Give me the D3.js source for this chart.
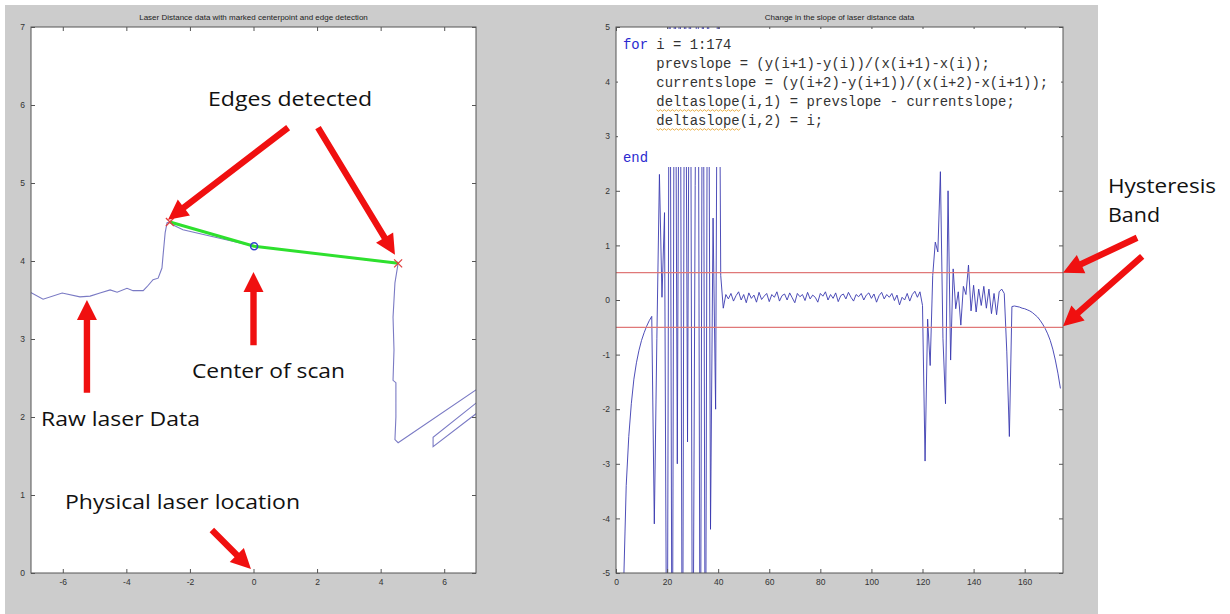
<!DOCTYPE html>
<meta charset="utf-8">
<style>
body { margin: 0; background: #fff; }
svg { display: block; }
.tick text { font-family: "Liberation Sans", Arial, sans-serif; font-size: 8.5px; fill: #333; }
.tick line { stroke: #555; }
.title { font-family: "Liberation Sans", Arial, sans-serif; font-size: 8px; fill: #222; }
.note { font-family: "Open Sans", "Liberation Sans", sans-serif; font-size: 20px; fill: #111; }
.code { font-family: "Liberation Mono", "Courier New", monospace; font-size: 13.9px; fill: #333; white-space: pre; }
</style>
<body>
<script src="https://cdn.jsdelivr.net/npm/d3@7"></script>
<script>
// left: raw laser scan (x, y in metres)
var rawScan = [
  [-7.19,3.60],[-7.03,3.60],[-6.62,3.51],[-6.02,3.59],[-5.46,3.54],[-5.14,3.55],
  [-4.83,3.59],[-4.51,3.63],[-4.29,3.60],[-3.98,3.65],[-3.79,3.62],[-3.47,3.62],
  [-3.35,3.67],[-3.16,3.76],[-3.00,3.78],[-2.88,3.91],[-2.85,4.05],[-2.78,4.36],
  [-2.72,4.49],[-2.63,4.50],[-2.53,4.46],[-2.22,4.40],[-1.78,4.36],[-1.27,4.31],
  [-0.83,4.27],[-0.42,4.23],[0.02,4.19],[1.46,4.12],[3.04,4.04],[4.55,3.97],
  [4.45,3.72],[4.39,3.28],[4.42,2.86],[4.39,2.47],[4.48,2.44],[4.48,2.00],
  [4.45,1.71],[4.55,1.67],[7.44,2.47],[7.44,2.32],[5.65,1.74],[5.65,1.62],[7.44,2.18]
];
var edgePoints = [[-2.63,4.50],[4.55,3.97]];
var centerPoint = [0.02,4.19];
var leftXTicks = [-6,-4,-2,0,2,4,6];
var leftYTicks = [0,1,2,3,4,5,6,7];

// right: deltaslope(i), i = 1..174
var deltaSlope = [
  -30,-9,-5.2,-3.4,-2.5,-1.9,-1.45,-1.15,-0.92,-0.74,
  -0.6,-0.48,-0.38,-0.3,-4.1,-0.7,2.3,0.05,1.6,-9,
  9,-9,9,-3.0,9,-9,9,-2.6,9,-9,
  2.1,9,-9,9,-9,9,-4.2,1.5,-2.0,9,
  0.45,-0.15,
  0.1,0.02,0.12,-0.02,0.08,0.15,0.0,0.1,-0.05,0.13,
  0.03,0.09,-0.04,0.14,0.01,0.07,0.12,-0.03,0.1,0.05,
  0.15,-0.02,0.08,0.11,0.0,0.13,0.04,-0.05,0.12,0.06,
  0.1,-0.01,0.14,0.02,0.09,0.05,-0.04,0.12,0.07,0.15,
  0.0,0.1,0.03,0.13,-0.03,0.08,0.11,0.02,0.14,0.05,
  -0.02,0.1,0.06,0.12,0.0,0.09,0.13,0.03,0.11,-0.04,
  0.08,0.14,0.02,0.1,0.05,0.12,-0.01,0.09,
  -0.09,0.05,0.0,0.12,-0.02,0.1,0.16,0.05,0.15,-0.1,
  -2.95,-0.35,-1.2,0.45,1.06,0.88,2.35,-0.7,-1.9,2.0,
  -1.1,0.57,-0.16,0.15,-0.46,0.25,0.1,0.64,-0.2,0.27,
  -0.22,0.2,-0.1,0.25,-0.15,0.2,-0.25,0.12,-0.27,0.15,
  0.2,0.12,-0.95,-2.5,-0.12,-0.11,-0.12,-0.13,-0.15,-0.16,
  -0.18,-0.2,-0.23,-0.27,-0.31,-0.37,-0.44,-0.52,-0.62,-0.74,
  -0.9,-1.1,-1.34,-1.62
];
var hysteresis = [0.5,-0.5];
var rightXTicks = [0,20,40,60,80,100,120,140,160];
var rightYTicks = [-5,-4,-3,-2,-1,0,1,2,3,4,5];

var codeLines = [
  [["for","kw"],[" i = 1:174",""]],
  [["    prevslope = (y(i+1)-y(i))/(x(i+1)-x(i));",""]],
  [["    currentslope = (y(i+2)-y(i+1))/(x(i+2)-x(i+1));",""]],
  [["    deltaslope(i,1) = prevslope - currentslope;",""]],
  [["    deltaslope(i,2) = i;",""]],
  [["",""]],
  [["end","kw"]]
];

var width = 1230, height = 614;

var svg = d3.select("body").append("svg")
    .attr("width", width)
    .attr("height", height);

svg.append("rect").attr("width", width).attr("height", height).attr("fill", "#fff");
svg.append("rect").attr("x", 5).attr("y", 5).attr("width", 1093).attr("height", 609).attr("fill", "#cccccc");

var defs = svg.append("defs");

function drawFrame(x, y, xt, yt, title, id) {
  var x0 = x.range()[0], x1 = x.range()[1], y0 = y.range()[0], y1 = y.range()[1];
  var g = svg.append("g");
  g.append("rect").attr("x", x0).attr("y", y1).attr("width", x1 - x0).attr("height", y0 - y1)
    .attr("fill", "#fff");
  defs.append("clipPath").attr("id", id).append("rect")
    .attr("x", x0).attr("y", y1).attr("width", x1 - x0).attr("height", y0 - y1);
  svg.append("text").attr("class", "title")
    .attr("x", (x0 + x1) / 2).attr("y", 20).attr("text-anchor", "middle").text(title);
  return g;
}

function drawAxes(x, y, xt, yt) {
  var x0 = x.range()[0], x1 = x.range()[1], y0 = y.range()[0], y1 = y.range()[1];
  var fmt = function(d) { return String(d); };
  var g = svg.append("g");
  g.append("g").attr("transform", "translate(0," + y0 + ")")
    .call(d3.axisBottom(x).tickValues(xt).tickFormat(fmt).tickSizeInner(-4).tickSizeOuter(0).tickPadding(6));
  g.append("g").attr("transform", "translate(0," + y1 + ")")
    .call(d3.axisTop(x).tickValues(xt).tickFormat("").tickSizeInner(-4).tickSizeOuter(0));
  g.append("g").attr("transform", "translate(" + x0 + ",0)")
    .call(d3.axisLeft(y).tickValues(yt).tickFormat(fmt).tickSizeInner(-4).tickSizeOuter(0).tickPadding(6));
  g.append("g").attr("transform", "translate(" + x1 + ",0)")
    .call(d3.axisRight(y).tickValues(yt).tickFormat("").tickSizeInner(-4).tickSizeOuter(0));
  g.selectAll(".domain").remove();
  g.append("rect").attr("x", x0).attr("y", y1).attr("width", x1 - x0).attr("height", y0 - y1)
    .attr("fill", "none").attr("stroke", "#555").attr("stroke-width", 1);
  return g;
}

// ---- left chart
var xL = d3.scaleLinear().domain([-7, 7]).range([31, 476]);
var yL = d3.scaleLinear().domain([0, 7]).range([573, 27]);
drawFrame(xL, yL, leftXTicks, leftYTicks, "Laser Distance data with marked centerpoint and edge detection", "clipL");

var lineL = d3.line().x(function(d) { return xL(d[0]); }).y(function(d) { return yL(d[1]); });
var gl = svg.append("g").attr("clip-path", "url(#clipL)");
gl.append("path").datum(rawScan).attr("d", lineL)
  .attr("fill", "none").attr("stroke", "#7a7ac4").attr("stroke-width", 1.1);
gl.append("path").datum([edgePoints[0], centerPoint, edgePoints[1]]).attr("d", lineL)
  .attr("fill", "none").attr("stroke", "#2ee02e").attr("stroke-width", 3);
gl.append("circle").attr("cx", xL(centerPoint[0])).attr("cy", yL(centerPoint[1])).attr("r", 3.5)
  .attr("fill", "none").attr("stroke", "#3344cc").attr("stroke-width", 1.5);
gl.selectAll(".edge").data(edgePoints).enter().append("path")
  .attr("d", function(d) {
    var cx = xL(d[0]), cy = yL(d[1]), s = 4;
    return "M" + (cx - s) + "," + (cy - s) + "L" + (cx + s) + "," + (cy + s) +
           "M" + (cx - s) + "," + (cy + s) + "L" + (cx + s) + "," + (cy - s);
  })
  .attr("stroke", "#e04040").attr("stroke-width", 1.3);
drawAxes(xL, yL, leftXTicks, leftYTicks);

// ---- right chart
var xR = d3.scaleLinear().domain([0, 175]).range([616, 1063]);
var yR = d3.scaleLinear().domain([-5, 5]).range([573, 27]);
drawFrame(xR, yR, rightXTicks, rightYTicks, "Change in the slope of laser distance data", "clipR");

var gr = svg.append("g").attr("clip-path", "url(#clipR)");
gr.append("path").datum(deltaSlope)
  .attr("d", d3.line().x(function(d, i) { return xR(i + 1); }).y(function(d) { return yR(d); }))
  .attr("fill", "none").attr("stroke", "#3a3ab0").attr("stroke-width", 0.9);
gr.selectAll(".hyst").data(hysteresis).enter().append("line")
  .attr("x1", xR(0)).attr("x2", xR(175))
  .attr("y1", function(d) { return yR(d); }).attr("y2", function(d) { return yR(d); })
  .attr("stroke", "#e07878").attr("stroke-width", 1.3);
drawAxes(xR, yR, rightXTicks, rightYTicks);

// code snippet pasted over the top of the right chart
svg.append("rect").attr("x", 618).attr("y", 29).attr("width", 443).attr("height", 138).attr("fill", "#fff");
var charW = 8.35, lineH = 18.9;
codeLines.forEach(function(parts, li) {
  var t = svg.append("text").attr("class", "code")
    .attr("x", 623).attr("y", 49 + li * lineH + (li === 6 ? -0.5 : 0));
  parts.forEach(function(p) {
    t.append("tspan").attr("fill", p[1] === "kw" ? "#2a2ad0" : "#333").text(p[0]);
  });
});
[3, 4].forEach(function(li) {
  var y = 49 + li * lineH + 4, x0 = 623 + 4 * charW, x1 = x0 + 10 * charW, d = "M" + x0 + "," + y;
  for (var x = x0, k = 0; x < x1; x += 2, k++) d += "L" + (x + 2) + "," + (y + (k % 2 ? 0 : 1.6));
  svg.append("path").attr("d", d).attr("fill", "none").attr("stroke", "#e8a838").attr("stroke-width", 0.9);
});

// ---- annotations
function arrowPath(a, b) {
  var dx = b[0] - a[0], dy = b[1] - a[1], L = Math.hypot(dx, dy);
  var ux = dx / L, uy = dy / L, nx = -uy, ny = ux;
  var hl = 20, hw = 10, sw = 3.2;
  var bx = b[0] - ux * hl, by = b[1] - uy * hl;
  var pts = [
    [a[0] + nx * sw, a[1] + ny * sw], [bx + nx * sw, by + ny * sw], [bx + nx * hw, by + ny * hw],
    b, [bx - nx * hw, by - ny * hw], [bx - nx * sw, by - ny * sw], [a[0] - nx * sw, a[1] - ny * sw]
  ];
  return "M" + pts.join("L") + "Z";
}
var leftArrows = [
  [[1.09, 5.71], [-2.69, 4.53]],
  [[2.03, 5.71], [4.45, 4.08]],
  [[0.0, 2.92], [0.0, 3.86]],
  [[-5.24, 2.31], [-5.24, 3.50]],
  [[-1.31, 0.55], [-0.08, 0.05]]
];
var rightArrows = [
  [[204, 1.14], [175, 0.5]],
  [[206, 0.8], [175, -0.48]]
];
leftArrows.forEach(function(a) {
  svg.append("path").attr("d", arrowPath([xL(a[0][0]), yL(a[0][1])], [xL(a[1][0]), yL(a[1][1])])).attr("fill", "#f01010");
});
rightArrows.forEach(function(a) {
  svg.append("path").attr("d", arrowPath([xR(a[0][0]), yR(a[0][1])], [xR(a[1][0]), yR(a[1][1])])).attr("fill", "#f01010");
});

var notes = [
  ["Edges detected", 208, 106, 164],
  ["Center of scan", 192, 378, 153],
  ["Raw laser Data", 41, 426, 159],
  ["Physical laser location", 65, 509, 235],
  ["Hysteresis", 1108, 193, 108],
  ["Band", 1108, 222, 52]
];
notes.forEach(function(n) {
  svg.append("text").attr("class", "note").attr("x", n[1]).attr("y", n[2])
    .attr("textLength", n[3]).attr("lengthAdjust", "spacingAndGlyphs").text(n[0]);
});
</script>
